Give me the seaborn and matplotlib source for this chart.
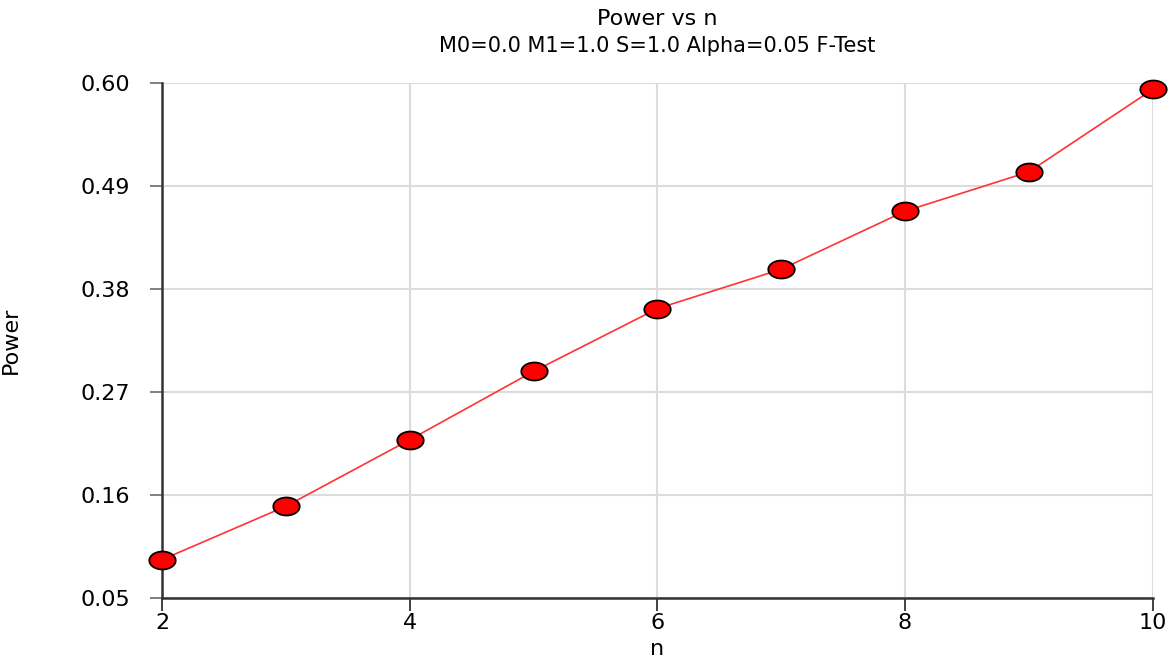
import numpy as np
import pandas as pd
import matplotlib
matplotlib.use("Agg")
import matplotlib.pyplot as plt
from matplotlib.path import Path
import seaborn as sns

# data
n_values = [2, 3, 4, 5, 6, 7, 8, 9, 10]
power_values = [0.091, 0.148, 0.219, 0.292, 0.359, 0.401, 0.463, 0.505, 0.593]
y_ticks = [0.05, 0.16, 0.27, 0.38, 0.49, 0.60]
x_ticks = [2, 4, 6, 8, 10]

df = pd.DataFrame({"n": n_values, "Power": power_values})

sns.set_style("white")
plt.rcParams["font.family"] = ["DejaVu Sans"]
plt.rcParams["text.color"] = "black"
plt.rcParams["axes.labelcolor"] = "black"
plt.rcParams["xtick.color"] = "black"
plt.rcParams["ytick.color"] = "black"

# wide ellipse marker (the original is stretched sideways)
theta = np.linspace(0, 2 * np.pi, 60)
ellipse = Path(np.column_stack([np.cos(theta), 0.68 * np.sin(theta)]), closed=True)

fig = plt.figure(figsize=(11.75, 6.63), dpi=100)
ax = fig.add_axes([0.138, 0.098, 0.843, 0.777])

sns.lineplot(
    data=df, x="n", y="Power", ax=ax,
    color="#ff3333", linewidth=1.2,
    marker=ellipse, markersize=19,
    markerfacecolor="red", markeredgecolor="black", markeredgewidth=1.3,
    clip_on=False, zorder=5,
)

ax.set_xlim(2, 10)
ax.set_ylim(0.05, 0.60)
ax.set_xticks(x_ticks)
ax.set_yticks(y_ticks)
ax.set_yticklabels([f"{v:.2f}" for v in y_ticks])
ax.grid(True, color="#dcdcdc", linewidth=1.5)
ax.set_axisbelow(True)

for side in ["top", "right"]:
    ax.spines[side].set_visible(False)
for side in ["left", "bottom"]:
    ax.spines[side].set_color("#333333")
    ax.spines[side].set_linewidth(1.8)

ax.tick_params(axis="both", direction="out", length=9, width=1.3,
               labelsize=16, bottom=True, left=True)
ax.tick_params(axis="x", pad=2, color="#333333")
ax.tick_params(axis="y", pad=14, color="#777777")

ax.set_xlabel("n", fontsize=16, labelpad=4)
ax.set_ylabel("Power", fontsize=16)
ax.yaxis.set_label_coords(-0.143, 0.5)

fig.text(0.5596, 0.972, "Power vs n", ha="center", va="center", fontsize=16)
fig.text(0.5596, 0.930, "M0=0.0 M1=1.0 S=1.0 Alpha=0.05 F-Test",
         ha="center", va="center", fontsize=15)

fig.savefig("out.png", dpi=100)
